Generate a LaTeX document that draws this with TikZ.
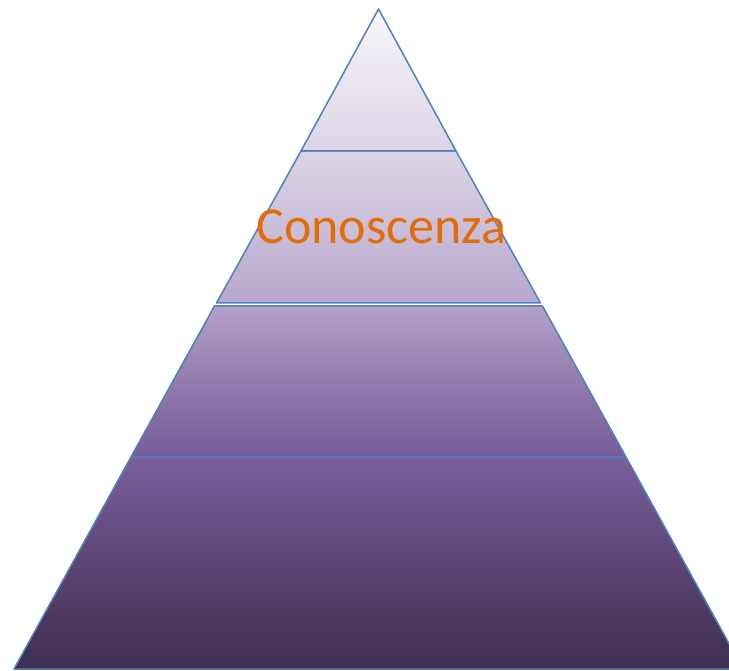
\documentclass[tikz,border=0pt]{standalone}
\usepackage{fontspec}
\setmainfont{Carlito}
\usepackage{xcolor}
\usetikzlibrary{positioning}
\definecolor{edgeblue}{HTML}{4F81BD}
\definecolor{lvA}{HTML}{F8F6FA}
\definecolor{lvB}{HTML}{DCD4E6}
\definecolor{lvC}{HTML}{B8A8CC}
\definecolor{lvD}{HTML}{B3A1C9}
\definecolor{lvE}{HTML}{775C97}
\definecolor{lvF}{HTML}{7A5E9B}
\definecolor{lvG}{HTML}{3E2E4F}
\definecolor{textorange}{HTML}{E36C0A}
\begin{document}
\begin{tikzpicture}[x=1pt,y=-1pt,
    tier/.style={draw=edgeblue, line width=1.5pt, line join=round},
    label/.style={font=\fontsize{52}{52}\selectfont, inner sep=0pt, anchor=base}]
            \useasboundingbox (0,0) rectangle (729,671);
            \clip (0,0) rectangle (729,671);
            % bottom tier
            \path[tier, top color=lvF, bottom color=lvG] (131,457) -- (626,457) -- (743,669) -- (14,669) -- cycle;
            % third tier
            \path[tier, top color=lvD, bottom color=lvE, middle color=lvE!55!lvD] (214.5,306) -- (542.5,306) -- (626,457) -- (131,457) -- cycle;
            % second tier
            \path[tier, top color=lvB, bottom color=lvC] (301,151) -- (456,151) -- (540.5,303) -- (216.5,303) -- cycle;
            % top tier
            \path[tier, top color=lvA, bottom color=lvB] (378.5,9) -- (456,151) -- (301,151) -- cycle;
            \node[label, text=textorange] (knowledge) at (381.5,244) {Conoscenza};
        \end{tikzpicture}
\end{document}
